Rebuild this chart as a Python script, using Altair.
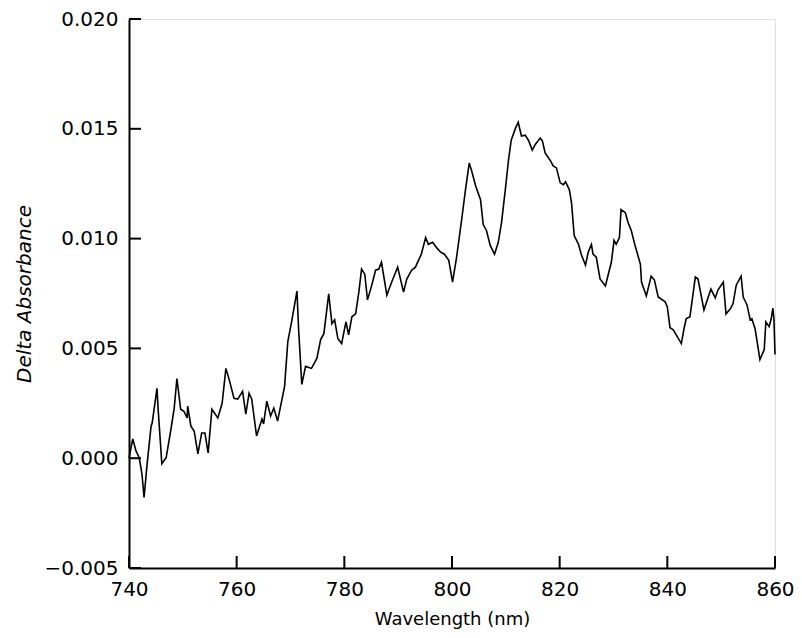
import altair as alt
import pandas as pd

wavelength = [
    740.0, 740.7, 741.3, 741.9, 742.4, 742.8, 743.3, 744.1, 744.3, 745.2,
    745.4, 746.1, 746.9, 747.8, 748.4, 748.9, 749.6, 750.2, 750.8, 750.9,
    751.5, 752.1, 752.8, 753.5, 754.1, 754.7, 755.4, 756.5, 757.3, 758.0,
    758.6, 759.5, 760.2, 761.1, 761.7, 762.3, 762.8, 763.7, 764.7, 765.0,
    765.6, 766.3, 766.9, 767.6, 768.9, 769.5, 770.2, 771.2, 771.5, 772.1,
    772.8, 773.9, 774.9, 775.6, 776.2, 777.1, 777.7, 778.2, 778.8, 779.5,
    780.3, 780.8, 781.4, 782.1, 782.7, 783.2, 783.8, 784.3, 785.1, 785.8,
    786.4, 786.9, 787.9, 788.8, 789.9, 791.0, 791.6, 792.5, 793.2, 794.3,
    795.1, 795.6, 796.4, 797.1, 797.9, 798.6, 799.4, 800.1, 800.8, 801.8,
    802.5, 803.2, 803.6, 804.4, 805.3, 805.8, 806.4, 807.1, 807.9, 808.6,
    809.2, 809.9, 810.5, 811.0, 811.8, 812.3, 812.9, 813.6, 814.2, 814.9,
    815.5, 816.4, 816.8, 817.3, 818.3, 818.8, 819.4, 820.1, 820.7, 821.1,
    821.8, 822.2, 822.7, 823.5, 824.0, 824.8, 825.3, 825.9, 826.2, 826.8,
    827.5, 828.5, 829.0, 829.6, 830.1, 830.5, 831.1, 831.4, 832.2, 832.7,
    833.3, 834.0, 835.0, 835.2, 836.1, 837.0, 837.6, 838.3, 839.6, 840.0,
    840.5, 841.1, 842.6, 843.1, 843.5, 844.2, 845.2, 845.7, 846.8, 847.6,
    848.1, 848.9, 849.4, 850.4, 850.9, 851.7, 852.2, 852.8, 853.7, 854.1,
    854.8, 855.4, 855.7, 856.3, 857.2, 858.0, 858.3, 858.9, 859.3, 859.6,
    859.8, 860.0,
]

delta_absorbance = [
    0.00000, 0.00088, 0.00033, 0.00002, -0.00071, -0.00179, -0.00043, 0.00146, 0.00160, 0.00318,
    0.00228, -0.00025, 0.00002, 0.00133, 0.00228, 0.00363, 0.00223, 0.00214, 0.00183, 0.00237,
    0.00146, 0.00124, 0.00020, 0.00115, 0.00115, 0.00024, 0.00223, 0.00183, 0.00250, 0.00409,
    0.00359, 0.00273, 0.00269, 0.00305, 0.00201, 0.00296, 0.00269, 0.00101, 0.00178, 0.00156,
    0.00260, 0.00192, 0.00228, 0.00169, 0.00327, 0.00531, 0.00621, 0.00761, 0.00590, 0.00336,
    0.00418, 0.00409, 0.00454, 0.00540, 0.00567, 0.00748, 0.00612, 0.00630, 0.00544, 0.00522,
    0.00621, 0.00562, 0.00644, 0.00657, 0.00757, 0.00861, 0.00838, 0.00721, 0.00788, 0.00856,
    0.00861, 0.00892, 0.00743, 0.00802, 0.00870, 0.00757, 0.00816, 0.00856, 0.00870, 0.00929,
    0.01005, 0.00974, 0.00983, 0.00960, 0.00938, 0.00929, 0.00901, 0.00802, 0.00906, 0.01087,
    0.01222, 0.01344, 0.01313, 0.01240, 0.01177, 0.01064, 0.01037, 0.00969, 0.00929, 0.00983,
    0.01073, 0.01222, 0.01358, 0.01448, 0.01503, 0.01530, 0.01467, 0.01471, 0.01448, 0.01403,
    0.01430, 0.01458, 0.01444, 0.01390, 0.01354, 0.01331, 0.01322, 0.01254, 0.01245, 0.01259,
    0.01222, 0.01164, 0.01014, 0.00974, 0.00929, 0.00879, 0.00938, 0.00974, 0.00929, 0.00915,
    0.00816, 0.00784, 0.00834, 0.00892, 0.00992, 0.00974, 0.01005, 0.01132, 0.01118, 0.01073,
    0.01037, 0.00969, 0.00883, 0.00802, 0.00739, 0.00829, 0.00811, 0.00734, 0.00712, 0.00689,
    0.00594, 0.00585, 0.00522, 0.00590, 0.00635, 0.00644, 0.00825, 0.00816, 0.00675, 0.00734,
    0.00770, 0.00730, 0.00766, 0.00802, 0.00657, 0.00680, 0.00703, 0.00788, 0.00829, 0.00734,
    0.00698, 0.00630, 0.00635, 0.00590, 0.00449, 0.00495, 0.00621, 0.00599, 0.00635, 0.00684,
    0.00635, 0.00472,
]

x_ticks = [740, 760, 780, 800, 820, 840, 860]
y_ticks = [-0.005, 0.0, 0.005, 0.010, 0.015, 0.020]

df = pd.DataFrame({"w": wavelength, "a": delta_absorbance})
df["i"] = range(len(df))
xt = pd.DataFrame({"t": x_ticks})
yt = pd.DataFrame({"t": y_ticks})

FONT = "DejaVu Sans"
W, H = 646, 549
TICK = 12
xscale = alt.Scale(domain=[740, 860], nice=False, zero=False)
yscale = alt.Scale(domain=[-0.005, 0.020], nice=False, zero=False)

xaxis = alt.Axis(
    values=x_ticks, format="d", title="Wavelength (nm)", grid=False,
    ticks=False, tickSize=0, domainColor="black", domainWidth=2,
    labelFlush=False, labelOverlap=False,
    labelFont=FONT, labelFontSize=20, labelColor="black", labelPadding=11,
    titleFont=FONT, titleFontSize=18, titleFontWeight="normal", titleColor="black",
    titlePadding=11,
)
yaxis = alt.Axis(
    values=y_ticks, format=".3f", title="Delta Absorbance", grid=False,
    ticks=False, tickSize=0, domainColor="black", domainWidth=2,
    labelFlush=False, labelOverlap=False,
    labelFont=FONT, labelFontSize=20, labelColor="black", labelPadding=11,
    titleFont=FONT, titleFontSize=20, titleFontWeight="normal", titleFontStyle="italic",
    titleColor="black", titlePadding=9,
)

line = alt.Chart(df).mark_line(color="black", strokeWidth=1.6).encode(
    x=alt.X("w:Q", scale=xscale, axis=xaxis),
    y=alt.Y("a:Q", scale=yscale, axis=yaxis),
    order="i:Q",
)

xtick_marks = alt.Chart(xt).mark_rule(color="black", strokeWidth=2).encode(
    x=alt.X("t:Q", scale=xscale),
    y=alt.value(H),
    y2=alt.value(H - TICK),
)

ytick_marks = alt.Chart(yt).mark_rule(color="black", strokeWidth=2).encode(
    y=alt.Y("t:Q", scale=yscale),
    x=alt.value(0),
    x2=alt.value(TICK),
)

chart = alt.layer(line, xtick_marks, ytick_marks).properties(
    width=W, height=H,
    autosize=alt.AutoSizeParams(type="none"),
    padding={"left": 121, "top": 11, "right": 19, "bottom": 62},
).configure_view(stroke=None).configure(background="white")

chart.save("out.html", embed_options={"renderer": "svg", "actions": False})
